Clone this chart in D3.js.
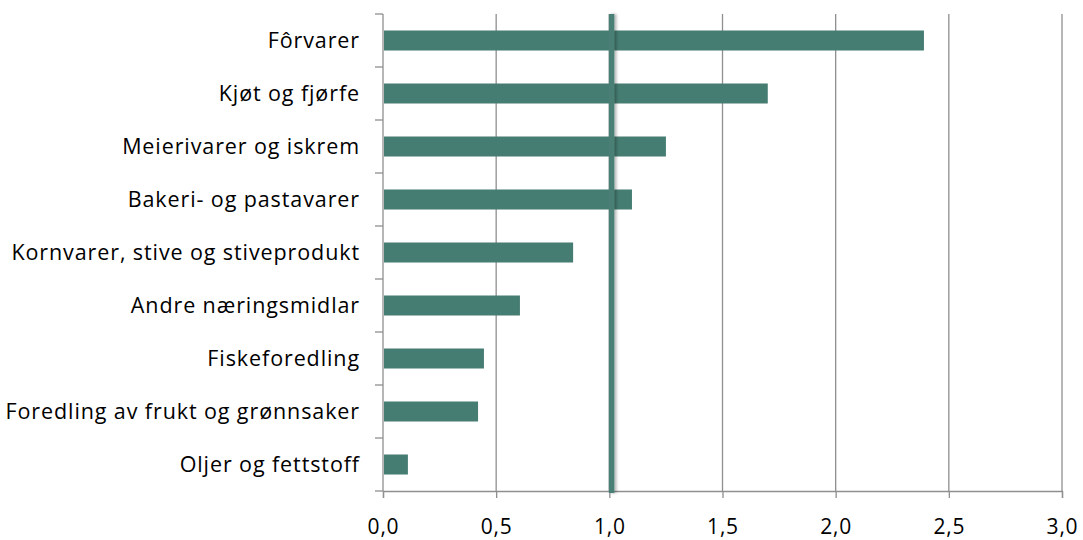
<!DOCTYPE html>
<html>
<head>
<meta charset="utf-8">
<script src="https://cdn.jsdelivr.net/npm/d3@7"></script>
<style>
  html, body { margin: 0; padding: 0; background: #fff; }
  svg { display: block; }
  text { font-family: "Open Sans", "Noto Sans", sans-serif; fill: #000; }
</style>
</head>
<body>
<svg id="chart" width="1083" height="540"></svg>
<script>
// Industries (top to bottom) and their index values
const categories = [
  "Fôrvarer",
  "Kjøt og fjørfe",
  "Meierivarer og iskrem",
  "Bakeri- og pastavarer",
  "Kornvarer, stive og stiveprodukt",
  "Andre næringsmidlar",
  "Fiskeforedling",
  "Foredling av frukt og grønnsaker",
  "Oljer og fettstoff"
];
const values = [2.39, 1.70, 1.25, 1.10, 0.84, 0.605, 0.446, 0.42, 0.11];
const xTicks = [0, 0.5, 1.0, 1.5, 2.0, 2.5, 3.0];
const referenceValue = 1.01;

const margin = { top: 14, right: 21, bottom: 49, left: 383 };
const width = 1083, height = 540;
const svg = d3.select("#chart");

const x = d3.scaleLinear().domain([0, 3]).range([margin.left, width - margin.right]);
const y = d3.scaleBand().domain(categories).range([margin.top, height - margin.bottom]).paddingInner(0).paddingOuter(0);

const fmt = d => d.toFixed(1).replace(".", ",");
const gridColor = "#8f8f8f";
const barColor = "#467d72";

// vertical gridlines
svg.append("g")
  .selectAll("line")
  .data(xTicks.filter(d => d > 0))
  .join("line")
  .attr("x1", d => x(d)).attr("x2", d => x(d))
  .attr("y1", margin.top).attr("y2", height - margin.bottom)
  .attr("stroke", gridColor).attr("stroke-width", 1.3);

// x axis
const xAxis = svg.append("g")
  .attr("transform", `translate(0,${height - margin.bottom})`)
  .call(d3.axisBottom(x).tickValues(xTicks).tickFormat(fmt).tickSize(7));
xAxis.select(".domain").attr("stroke", gridColor).attr("stroke-width", 1.3);
xAxis.selectAll(".tick line").attr("stroke", gridColor).attr("stroke-width", 1.3);
xAxis.selectAll(".tick text")
  .attr("y", 43).attr("dy", 0)
  .attr("font-size", 21)
  .attr("letter-spacing", 0.8)
  .attr("font-family", "Open Sans, sans-serif")
  .attr("fill", "#000");

// y axis with boundary ticks between categories
const yAxisG = svg.append("g").attr("transform", `translate(${margin.left},0)`);
yAxisG.append("line")
  .attr("x1", 0).attr("x2", 0)
  .attr("y1", margin.top).attr("y2", height - margin.bottom)
  .attr("stroke", gridColor).attr("stroke-width", 1.3);
const bounds = categories.map(c => y(c)).concat([y(categories[categories.length - 1]) + y.bandwidth()]);
yAxisG.selectAll("line.bt")
  .data(bounds)
  .join("line")
  .attr("class", "bt")
  .attr("x1", -8).attr("x2", 0)
  .attr("y1", d => d).attr("y2", d => d)
  .attr("stroke", gridColor).attr("stroke-width", 1.3);
yAxisG.selectAll("text")
  .data(categories)
  .join("text")
  .attr("x", -23)
  .attr("y", d => y(d) + y.bandwidth() / 2)
  .attr("dy", "0.35em")
  .attr("text-anchor", "end")
  .attr("font-size", 21.5)
  .attr("letter-spacing", 0.9)
  .text(d => d);

// bars
const barH = 20;
svg.append("g")
  .selectAll("rect")
  .data(categories.map((c, i) => ({ c, v: values[i] })))
  .join("rect")
  .attr("x", x(0) + 1)
  .attr("y", d => y(d.c) + y.bandwidth() / 2 - barH / 2)
  .attr("width", d => x(d.v) - x(0) - 1)
  .attr("height", barH)
  .attr("fill", barColor);

// reference line at the index value, with a soft shadow
const defs = svg.append("defs");
const f = defs.append("filter").attr("id", "shadow")
  .attr("filterUnits", "userSpaceOnUse")
  .attr("x", 0).attr("y", 0).attr("width", width).attr("height", height);
f.append("feDropShadow").attr("dx", 2).attr("dy", 0).attr("stdDeviation", 1.5)
  .attr("flood-color", "#000").attr("flood-opacity", 0.3);
const refW = 5.5;
svg.append("rect")
  .attr("x", x(referenceValue) - refW / 2)
  .attr("y", margin.top)
  .attr("width", refW)
  .attr("height", height - margin.bottom + 2 - margin.top)
  .attr("fill", "#4a7f75")
  .attr("filter", "url(#shadow)");
</script>
</body>
</html>
